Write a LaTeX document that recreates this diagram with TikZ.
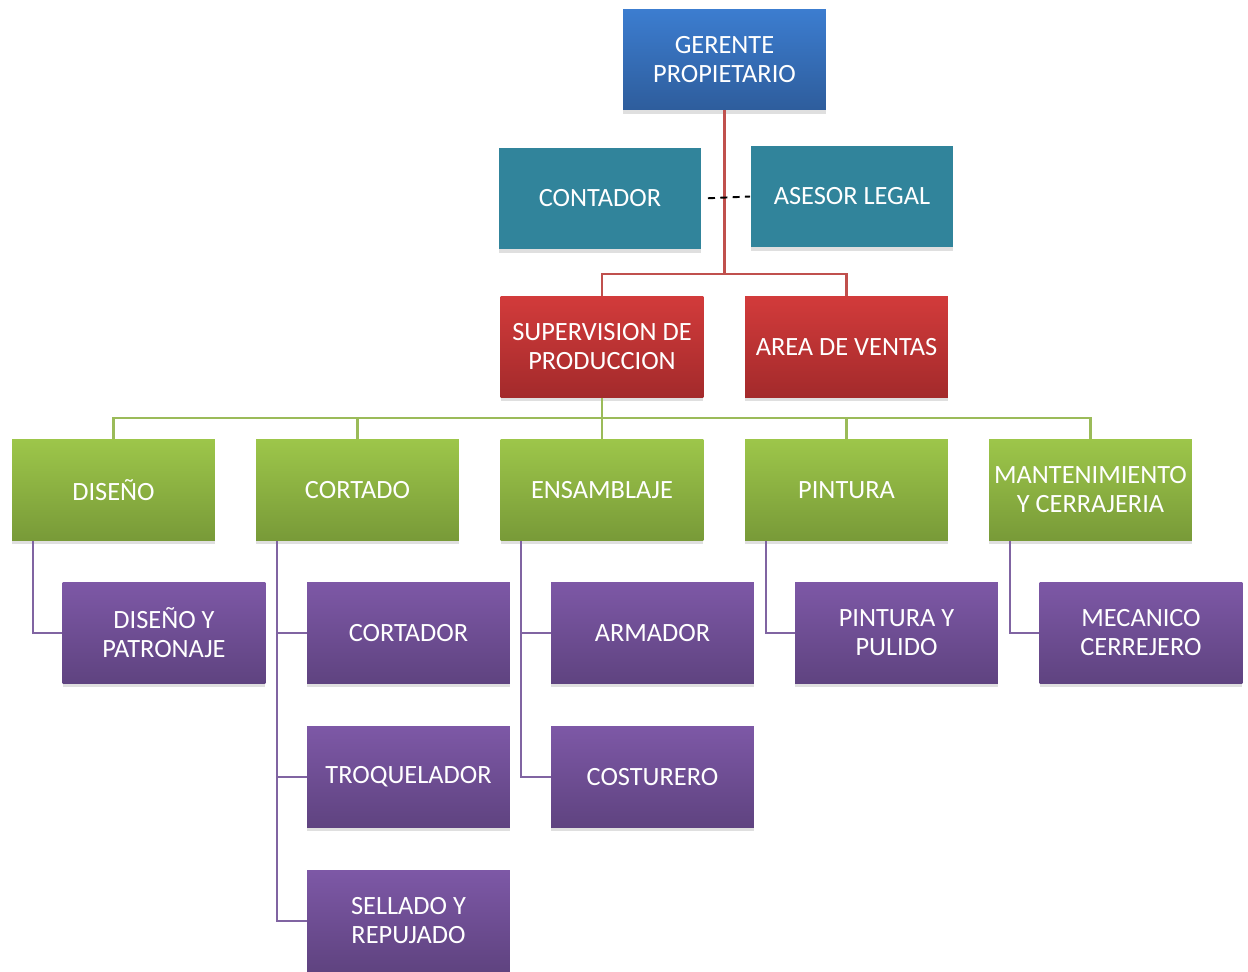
\documentclass[tikz,border=0pt]{standalone}
\usepackage{fontspec}
\setmainfont{Carlito}
\usetikzlibrary{shadows}

\definecolor{bluetop}{HTML}{3C7DD0}
\definecolor{bluebot}{HTML}{2E5D9C}
\definecolor{tealbox}{HTML}{31849B}
\definecolor{redtop}{HTML}{D23B3B}
\definecolor{redbot}{HTML}{A32A2B}
\definecolor{greentop}{HTML}{9DC64A}
\definecolor{greenbot}{HTML}{789A38}
\definecolor{purptop}{HTML}{7D58A6}
\definecolor{purpbot}{HTML}{5F4380}
\definecolor{redln}{HTML}{C0504D}
\definecolor{greenln}{HTML}{9BBB59}
\definecolor{purpln}{HTML}{8064A2}

\begin{document}
\begin{tikzpicture}[x=0.02cm,y=-0.02cm,
    box/.style={minimum width=4.06cm, minimum height=2.02cm, inner sep=2pt,
        align=center, text=white, font=\fontsize{15}{16.5}\selectfont,
        drop shadow={shadow xshift=0pt, shadow yshift=-2.2pt, opacity=0.25}},
    bluebox/.style={box, top color=bluetop, bottom color=bluebot},
    tealbx/.style={box, fill=tealbox},
    redbox/.style={box, top color=redtop, bottom color=redbot},
    greenbox/.style={box, top color=greentop, bottom color=greenbot},
    purpbox/.style={box, top color=purptop, bottom color=purpbot},
    redline/.style={draw=redln, line width=1.2pt},
    greenline/.style={draw=greenln, line width=1.2pt},
    purpline/.style={draw=purpln, line width=1.2pt}]
    \useasboundingbox (0,0) rectangle (1248,971);

    % top
    \node (ger) at (724.5,59.5) [bluebox] {GERENTE\\PROPIETARIO};
    \node (con) at (600,198.5) [tealbx] {CONTADOR};
    \node (ase) at (852,196.5) [tealbx] {ASESOR LEGAL};

    \node (sup) at (602,347) [redbox] {SUPERVISION DE\\PRODUCCION};
    \node (ven) at (846.5,347) [redbox] {AREA DE VENTAS};

    % areas
    \node (dis) at (113.5,490) [greenbox] {DISEÑO};
    \node (cor) at (357.5,490) [greenbox] {CORTADO};
    \node (ens) at (602,490) [greenbox] {ENSAMBLAJE};
    \node (pin) at (846.5,490) [greenbox] {PINTURA};
    \node (man) at (1090.5,490) [greenbox] {MANTENIMIENTO\\Y CERRAJERIA};

    % puestos
    \node (dyp) at (164,633) [purpbox] {DISEÑO Y\\PATRONAJE};
    \node (ctr) at (408.5,633) [purpbox] {CORTADOR};
    \node (tro) at (408.5,777) [purpbox] {TROQUELADOR};
    \node (sel) at (408.5,921) [purpbox] {SELLADO Y\\REPUJADO};
    \node (arm) at (652.5,633) [purpbox] {ARMADOR};
    \node (cos) at (652.5,777) [purpbox] {COSTURERO};
    \node (pyp) at (896.5,633) [purpbox] {PINTURA Y\\PULIDO};
    \node (mec) at (1141,633) [purpbox] {MECANICO\\CERREJERO};

    % lines
    \coordinate (rj) at (724.5,274);
    \draw[redline] (ger.south) -- (rj);
    \draw[redline] (sup.north) |- (rj) -| (ven.north);
    \draw[line width=1.1pt, dash pattern=on 4pt off 3pt, shorten <=3.5pt] (con.east) -- (ase.west);

    \coordinate (gj) at (602,418);
    \draw[greenline] (sup.south) -- (gj);
    \draw[greenline] (dis.north) |- (gj) -| (man.north);
    \draw[greenline] (cor.north) -- (cor.north |- gj);
    \draw[greenline] (pin.north) -- (pin.north |- gj);
    \draw[greenline] (ens.north) -- (gj);

    \draw[purpline] ([xshift=0.42cm]dis.south west) |- (dyp.west);
    \draw[purpline] ([xshift=0.42cm]cor.south west) |- (sel.west);
    \draw[purpline] ([xshift=0.42cm]cor.south west |- ctr.west) -- (ctr.west);
    \draw[purpline] ([xshift=0.42cm]cor.south west |- tro.west) -- (tro.west);
    \draw[purpline] ([xshift=0.42cm]ens.south west) |- (cos.west);
    \draw[purpline] ([xshift=0.42cm]ens.south west |- arm.west) -- (arm.west);
    \draw[purpline] ([xshift=0.42cm]pin.south west) |- (pyp.west);
    \draw[purpline] ([xshift=0.42cm]man.south west) |- (mec.west);
\end{tikzpicture}
\end{document}
